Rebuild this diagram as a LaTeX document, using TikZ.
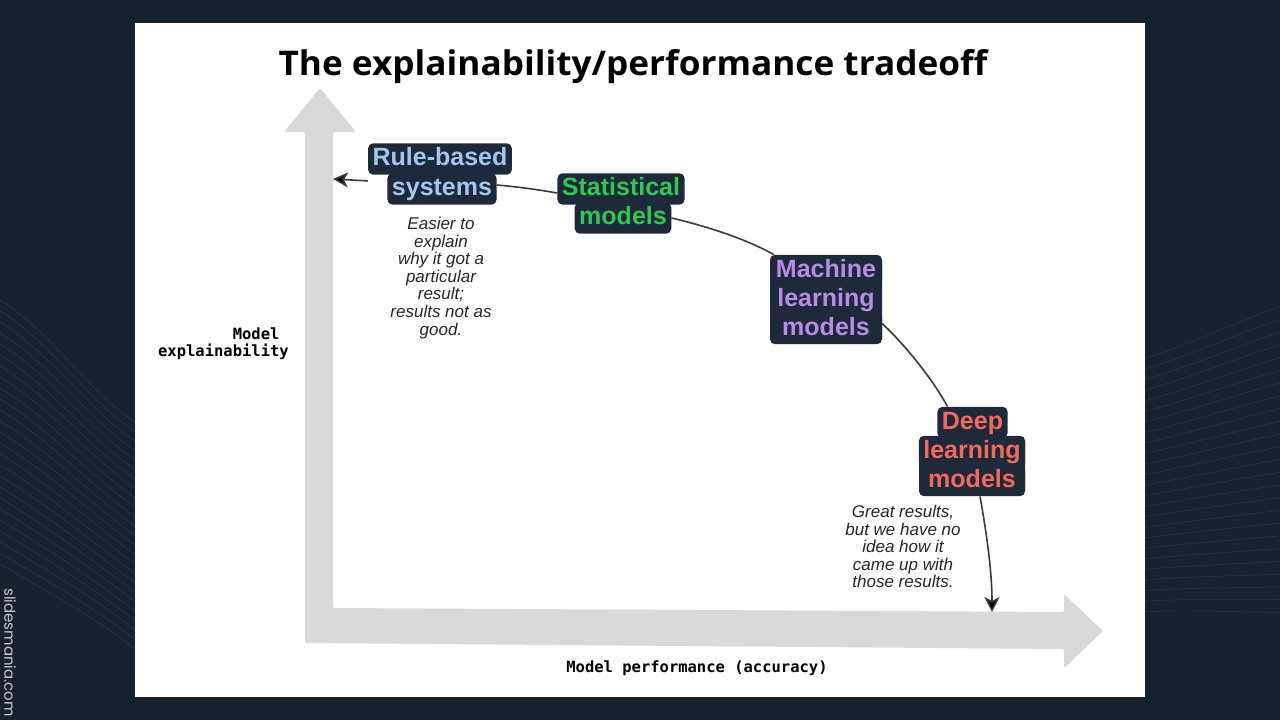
\documentclass[tikz,border=0pt]{standalone}
\usepackage{fontspec}
\setmainfont{Liberation Sans}
\newfontfamily\titlefont{Open Sans}
\newfontfamily\boxfont{Liberation Sans}
\newfontfamily\notefont{Liberation Sans}
\newfontfamily\monofont{DejaVu Sans Mono}
\newfontfamily\brandfont{Poppins}
\usetikzlibrary{arrows.meta}
\definecolor{bg}{HTML}{18222E}
\definecolor{wave}{HTML}{2A3A4A}
\definecolor{axisgray}{HTML}{D9D9D9}
\definecolor{boxnavy}{HTML}{1E2A3A}
\definecolor{cblue}{HTML}{A2C6EC}
\definecolor{cgreen}{HTML}{2FC850}
\definecolor{cpurple}{HTML}{B58CE6}
\definecolor{cred}{HTML}{F26A5C}
\definecolor{linegray}{HTML}{3A3A3A}
\tikzset{
  lbox/.style={fill=boxnavy, rounded corners=5pt, inner xsep=4.5pt, inner ysep=4.2pt,
    text height=18pt, text depth=5pt, font=\boxfont\bfseries\fontsize{25}{28}\selectfont},
  groupfill/.style={fill=boxnavy, rounded corners=5pt},
  note/.style={align=center, inner sep=0pt, text=black!85,
    font=\notefont\itshape\fontsize{17}{17.6}\selectfont},
  axislabel/.style={inner sep=0pt, font=\monofont\bfseries\fontsize{15.5}{17}\selectfont},
  conn/.style={draw=linegray, line width=1.6pt},
  tip/.style={-{Stealth[length=15pt,width=15pt,inset=4pt,fill=black]}},
  wavestyle/.style={draw=wave, line width=0.6pt, opacity=0.8}
}
\begin{document}
\begin{tikzpicture}[x=1pt,y=-1pt]
\useasboundingbox (0,0) rectangle (1280,720);
\fill[bg] (0,0) rectangle (1280,720);
% background waves
\begin{scope}
\clip (0,0) rectangle (135,720);
\foreach \i in {0,...,24} {
  \draw[wavestyle] (0,{300+\i*11}) .. controls (50,{330+\i*11}) and (95,{400+\i*9}) .. (140,{425+\i*9.5});
}
\end{scope}
\begin{scope}
\clip (1145,0) rectangle (1280,720);
\foreach \i in {0,...,24} {
  \draw[wavestyle] (1140,{360+\i*10.5}) .. controls (1190,{345+\i*11}) and (1240,{320+\i*12.2}) .. (1285,{305+\i*12.8});
}
\end{scope}
% panel
\fill[white] (135,23) rectangle (1145,697);
% axes arrows
\fill[axisgray, rounded corners=1.5pt] (305,643) -- (305,132) -- (284,132) -- (320,88) -- (356,132) -- (333,132)
  -- (333,608) -- (1064,612) -- (1064,594) -- (1103,631) -- (1064,668) -- (1064,649) -- cycle;
% title
\node[anchor=base, inner sep=0pt, font=\titlefont\bfseries\fontsize{34}{37}\selectfont] (title) at (633,75)
  {\scalebox{1.035}[1]{The explainability/performance tradeoff}};
% axis labels
\node[axislabel, align=right, anchor=north east] (ylab) at (289,328) {Model\hphantom{x}\\explainability};
\node[axislabel, anchor=base] (xlab) at (697,672) {Model performance (accuracy)};
% group backgrounds
\fill[groupfill] (770,256) rectangle (882,343);
\fill[groupfill] (919,437) rectangle (1025,495);
% boxes
\node[lbox, text=cblue] (rb1) at (440,159) {Rule-based};
\node[lbox, text=cblue] (rb2) at (442,189) {systems};
\node[lbox, text=cgreen] (st1) at (621,189) {Statistical};
\node[lbox, text=cgreen] (st2) at (623,218) {models};
\node[lbox, text=cpurple, minimum width=112pt] (ml1) at (826,270.5) {Machine};
\node[lbox, text=cpurple, minimum width=110pt] (ml2) at (826,299.5) {learning};
\node[lbox, text=cpurple, minimum width=112pt] (ml3) at (826,328.5) {models};
\node[lbox, text=cred] (dl1) at (972.5,422.5) {Deep};
\node[lbox, text=cred, minimum width=106pt] (dl2) at (972,451.5) {learning};
\node[lbox, text=cred, minimum width=106pt] (dl3) at (972,480.5) {models};
% notes
\node[note, anchor=north] (n1) at (441,217) {Easier to\\explain\\why it got a\\particular\\result;\\results not as\\good.};
\node[note, anchor=north] (n2) at (903,505) {Great results,\\but we have no\\idea how it\\came up with\\those results.};
% brand
\node[rotate=-90, anchor=west, inner sep=0pt, text=white!75!bg, font=\brandfont\fontsize{15}{16}\selectfont] (brand) at (10,588) {slidesmania.com};
% connectors
\coordinate (ytip) at (333,179);
\coordinate (xtip) at (992,612);
\draw[conn, tip] ([yshift=-6pt]rb1.south west) -- (ytip);
\draw[conn] ([yshift=4pt]rb2.east) .. controls (520,187) and (540,190) .. ([yshift=-4pt]st1.west);
\draw[conn] (st2.east) .. controls (710,227) and (748,240) .. ([xshift=4pt]ml1.north west);
\draw[conn] ([yshift=5pt]ml3.east) .. controls (905,345) and (932,378) .. ([xshift=-25pt]dl1.north);
\draw[conn, tip] ([xshift=8pt]dl3.south) .. controls (986,530) and (992,570) .. (xtip);
\end{tikzpicture}
\end{document}
